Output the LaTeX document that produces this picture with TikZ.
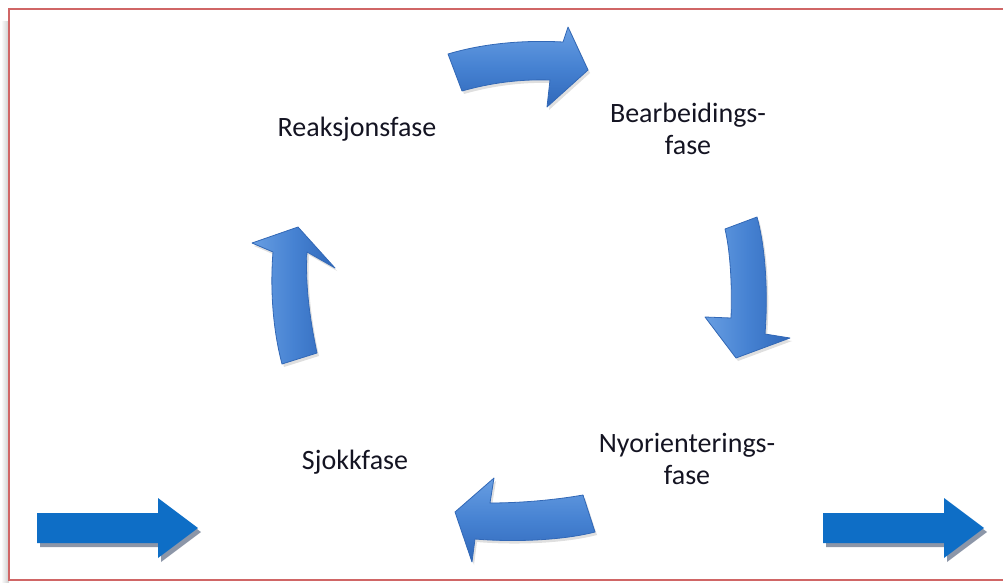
\documentclass[tikz,border=0pt]{standalone}
\usepackage{fontspec}
\setmainfont{Carlito}
\usetikzlibrary{shadows}

\definecolor{framered}{RGB}{208,102,102}
\definecolor{arrowlight}{RGB}{104,158,226}
\definecolor{arrowmid}{RGB}{70,130,210}
\definecolor{arrowdark}{RGB}{48,104,186}
\definecolor{arrowline}{RGB}{50,104,182}
\definecolor{flatblue}{RGB}{14,110,198}
\definecolor{flatshade}{RGB}{140,150,168}
\definecolor{labeltext}{RGB}{20,20,34}

\tikzset{
  phase/.style={font=\fontsize{28}{32}\selectfont, text=labeltext, align=center},
  bendarrow/.style={draw=arrowline, line width=0.8pt, line join=round,
    drop shadow={shadow xshift=2pt, shadow yshift=-3pt, opacity=0.25}},
  flatarrow/.style={fill=flatblue},
  flatshadow/.style={fill=flatshade}
}

\begin{document}
\begin{tikzpicture}[x=1pt, y=-1pt]

  % Fix the page to the size of the reference
  \useasboundingbox (0,0) rectangle (1003,583);

  % Frame round the diagram, with a soft shadow on its left side
  \shade[left color=white, right color=gray!40] (1,22) rectangle (9,583);
  \draw[framered, line width=2pt] (9,9) rectangle (1014,580);

  % Phase labels
  \node[phase] (reaksjon) at (357,129) {Reaksjonsfase};
  \node[phase] (bearbeiding) at (688,129) {Bearbeidings-\\fase};
  \node[phase] (nyorientering) at (687,459) {Nyorienterings-\\fase};
  \node[phase] (sjokk) at (355,462) {Sjokkfase};

  % Curved arrow from Reaksjonsfase to Bearbeidingsfase
  \path[bendarrow, top color=arrowlight, bottom color=arrowdark, middle color=arrowmid]
    (448,54) .. controls (485,43) and (525,40) .. (563,42) -- (568,27)
    -- (588,70) -- (547,107) -- (550,80)
    .. controls (520,79) and (490,83) .. (462,91) -- cycle;

  % Curved arrow from Bearbeidingsfase to Nyorienteringsfase
  \path[bendarrow, left color=arrowlight, right color=arrowdark, middle color=arrowmid]
    (725,229) -- (757,217) .. controls (766,250) and (768,295) .. (765,334)
    -- (790,338) -- (736,358) -- (705,317) -- (731,318)
    .. controls (732,290) and (731,255) .. (725,229) -- cycle;

  % Curved arrow from Nyorienteringsfase to Sjokkfase
  \path[bendarrow, top color=arrowlight, bottom color=arrowdark, middle color=arrowmid]
    (583,495) -- (595,532) .. controls (560,541) and (510,542) .. (475,539)
    -- (472,562) -- (455,512) -- (494,478) -- (490,503)
    .. controls (520,503) and (555,500) .. (583,495) -- cycle;

  % Curved arrow from Sjokkfase to Reaksjonsfase
  \path[bendarrow, left color=arrowlight, right color=arrowdark, middle color=arrowmid]
    (282,364) -- (317,353) .. controls (310,320) and (305,285) .. (307,252)
    -- (335,268) -- (298,227) -- (252,243) -- (273,252)
    .. controls (270,290) and (273,330) .. (282,364) -- cycle;

  % Straight arrow coming in (left) and going out (right)
  \foreach \sx in {37,823}{
    \fill[flatshadow, shift={(3,4)}]
      (\sx,513) -- ++(121,0) -- ++(0,-15) -- ++(40,30) -- ++(-40,30)
      -- ++(0,-15) -- ++(-121,0) -- cycle;
    \fill[flatarrow]
      (\sx,513) -- ++(121,0) -- ++(0,-15) -- ++(40,30) -- ++(-40,30)
      -- ++(0,-15) -- ++(-121,0) -- cycle;
  }

\end{tikzpicture}
\end{document}
